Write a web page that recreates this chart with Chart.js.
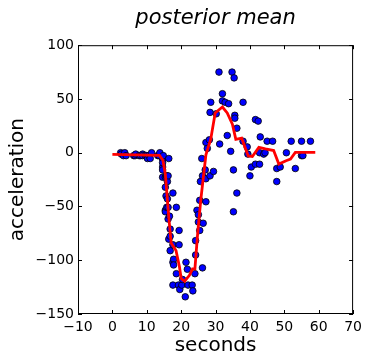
<!DOCTYPE html>
<html>
<head>
<meta charset="utf-8">
<script src="https://cdn.jsdelivr.net/npm/chart.js@4.4.1/dist/chart.umd.min.js"></script>
<style>
  html, body { margin: 0; padding: 0; background: #fff; }
  #wrap { width: 367px; height: 356px; }
</style>
</head>
<body>
<div id="wrap"><canvas id="chart" width="367" height="356"></canvas></div>
<script>
// --- data: observations (seconds vs acceleration) ---
const obsTime = [2.4,2.6,3.2,3.6,4.0,6.2,6.6,6.8,7.8,8.2,8.8,8.8,9.6,10.0,10.2,
  10.6,11.0,11.4,13.2,13.6,13.8,14.6,14.6,14.6,14.6,14.6,14.6,14.8,15.4,15.4,
  15.4,15.4,15.6,15.6,15.8,15.8,16.0,16.0,16.2,16.2,16.2,16.4,16.4,16.6,16.8,
  16.8,16.8,17.6,17.6,17.6,17.6,17.8,17.8,18.6,18.6,19.2,19.4,19.4,19.6,20.2,
  20.4,21.2,21.4,21.8,22.0,23.2,23.4,24.0,24.2,24.2,24.6,25.0,25.0,25.4,25.4,
  25.6,26.0,26.2,26.2,26.4,27.0,27.2,27.2,27.2,27.6,28.2,28.4,28.4,28.6,29.4,
  30.2,31.0,31.2,32.0,32.0,32.8,33.4,33.8,34.4,34.8,35.2,35.2,35.4,35.6,35.6,
  36.2,36.2,38.0,38.0,39.2,39.4,40.0,40.4,41.6,41.6,42.4,42.8,42.8,43.0,44.0,
  44.4,45.0,46.6,47.8,47.8,48.8,50.6,52.0,53.2,55.0,55.0,55.4,57.6];
const obsAccel = [0.0,-1.3,-2.7,0.0,-2.7,-2.7,-2.7,-1.3,-2.7,-2.7,
  -1.3,-2.7,-2.7,-2.7,-5.4,-2.7,-5.4,0.0,-2.7,-2.7,
  0.0,-13.3,-5.4,-5.4,-9.3,-16.0,-22.8,-2.7,-22.8,-32.1,
  -53.5,-54.9,-40.2,-21.5,-21.5,-50.8,-42.9,-26.8,-21.5,-50.8,
  -61.7,-5.4,-80.4,-59.0,-71.0,-91.1,-77.7,-37.5,-85.6,-123.1,
  -101.9,-99.1,-104.4,-112.5,-50.8,-123.1,-85.6,-72.3,-127.2,-123.1,
  -117.9,-134.0,-101.9,-108.4,-123.1,-123.1,-128.5,-112.5,-95.1,-81.8,
  -53.5,-64.4,-57.6,-72.3,-44.3,-26.8,-5.4,-107.1,-21.5,-65.6,
  -16.0,-45.6,-24.2,9.5,4.0,12.0,-21.5,37.5,46.9,-17.4,
  36.2,75.0,8.1,54.9,48.2,46.9,16.0,45.6,1.3,75.0,
  -16.0,-54.9,69.6,34.8,32.1,-37.5,22.8,46.9,10.7,5.4,
  -1.3,-21.5,-13.3,30.8,-10.7,29.4,0.0,-10.7,14.7,-1.3,
  0.0,10.7,10.7,-26.8,-14.7,-13.3,0.0,10.7,-14.7,-2.7,
  10.7,-2.7,10.7];

// --- posterior mean curve ---
const meanTime = [0, 13.7, 14.7, 15.4, 16.4, 17.1, 18.5, 19.5, 20.0, 21.0, 22.4, 23.3, 24.0,
  24.8, 25.7, 27.2, 28.6, 29.9, 32.0, 33.4, 34.9, 35.9, 37.6, 39.5, 40.7, 42.6,
  44.5, 46.9, 48.4, 50.5, 51.8, 53.2, 59.0];
const meanAccel = [-1.5, -2.5, -7, -20, -60, -84, -91, -106, -117, -119.5, -114, -108, -108,
  -75, -44, -2, 12.5, 37, 42.5, 37, 26.5, 12.5, 13.5, -3, -3.5, 5,
  3.5, 2, -10.5, -7.5, -6, 0.3, 0.3];

const xTicks = [-10, 0, 10, 20, 30, 40, 50, 60, 70];
const yTicks = [-150, -100, -50, 0, 50, 100];

const FONT = "'DejaVu Sans', sans-serif";

function toPairs(xs, ys) { return xs.map((x, i) => ({ x: x, y: ys[i] })); }
function fmt(v) { return String(v).replace('-', '\u2212'); }

// frame on all 4 sides + inward ticks (matplotlib classic look)
const framePlugin = {
  id: 'frame',
  afterDraw(chart) {
    const { ctx, chartArea: a, scales } = chart;
    ctx.save();
    ctx.strokeStyle = '#000';
    ctx.lineWidth = 1;
    ctx.strokeRect(a.left + 0.5, a.top + 0.5, a.right - a.left - 1, a.bottom - a.top - 1);
    const len = 4;
    ctx.beginPath();
    xTicks.forEach(v => {
      const px = Math.round(scales.x.getPixelForValue(v)) + 0.5;
      ctx.moveTo(px, a.bottom); ctx.lineTo(px, a.bottom - len);
      ctx.moveTo(px, a.top); ctx.lineTo(px, a.top + len);
    });
    yTicks.forEach(v => {
      const py = Math.round(scales.y.getPixelForValue(v)) + 0.5;
      ctx.moveTo(a.left, py); ctx.lineTo(a.left + len, py);
      ctx.moveTo(a.right, py); ctx.lineTo(a.right - len, py);
    });
    ctx.stroke();
    ctx.restore();
  }
};

new Chart(document.getElementById('chart'), {
  type: 'scatter',
  data: {
    datasets: [
      {
        label: 'posterior mean',
        data: toPairs(meanTime, meanAccel),
        showLine: true,
        borderColor: '#ff0000',
        borderWidth: 2.8,
        pointRadius: 0,
        tension: 0,
        fill: false
      },
      {
        label: 'data',
        data: toPairs(obsTime, obsAccel),
        backgroundColor: '#0000ff',
        borderColor: '#000',
        borderWidth: 0.8,
        pointRadius: 3.3
      }
    ]
  },
  plugins: [framePlugin],
  options: {
    responsive: false,
    animation: false,
    layout: { padding: { left: 0, right: 12, top: 0, bottom: 0 } },
    plugins: {
      legend: { display: false },
      tooltip: { enabled: false },
      title: {
        display: true,
        fullSize: false,
        text: 'posterior mean',
        color: '#000',
        font: { family: FONT, size: 21, style: 'italic', weight: 'normal' },
        padding: { top: 6, bottom: 14 }
      }
    },
    scales: {
      x: {
        type: 'linear',
        min: -10, max: 70,
        afterBuildTicks: s => { s.ticks = xTicks.map(v => ({ value: v })); },
        afterFit: s => { s.height = 42; },
        grid: { display: false, drawTicks: false },
        border: { display: false },
        ticks: { color: '#000', padding: 5, maxRotation: 0, font: { family: FONT, size: 14 }, callback: v => fmt(v) },
        title: { display: true, text: 'seconds', color: '#000', padding: { top: 0, bottom: -2 }, font: { family: FONT, size: 20 } }
      },
      y: {
        type: 'linear',
        min: -150, max: 100,
        afterBuildTicks: s => { s.ticks = yTicks.map(v => ({ value: v })); },
        afterFit: s => { s.width = 78; },
        grid: { display: false, drawTicks: false },
        border: { display: false },
        ticks: { color: '#000', padding: 4, font: { family: FONT, size: 14 }, callback: v => fmt(v) },
        title: { display: true, text: 'acceleration', color: '#000', padding: { top: 6, bottom: 0 }, font: { family: FONT, size: 20 } }
      }
    }
  }
});
</script>
</body>
</html>
